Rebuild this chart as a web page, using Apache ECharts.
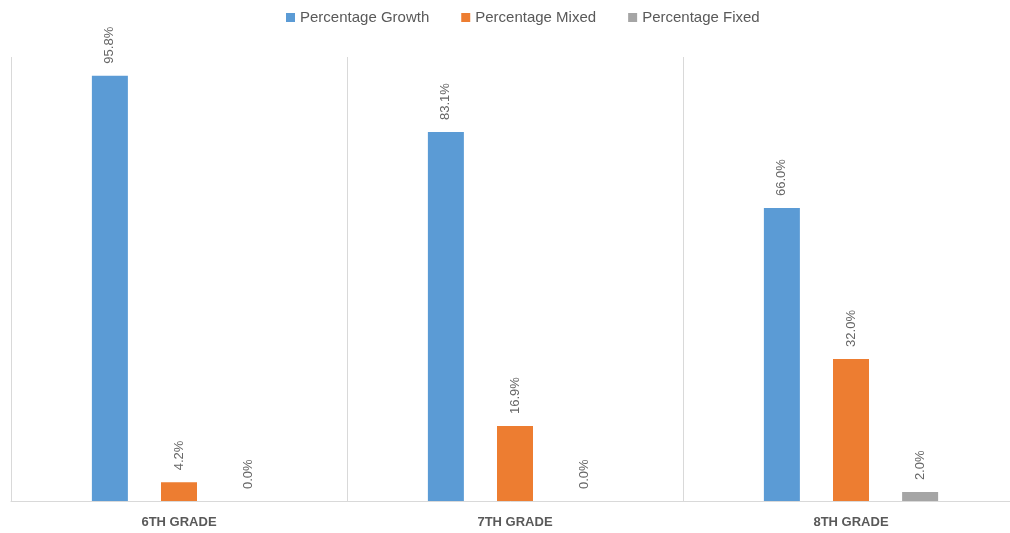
<!DOCTYPE html>
<html>
<head>
<meta charset="utf-8">
<script src="https://cdn.jsdelivr.net/npm/echarts@6/dist/echarts.min.js"></script>
<style>html,body{margin:0;padding:0;background:#fff;}#c{width:1010px;height:533px;}</style>
</head>
<body>
<div id="c"></div>
<script>
var categories = ['6TH GRADE', '7TH GRADE', '8TH GRADE'];
var growth = [95.8, 83.1, 66.0];
var mixed = [4.2, 16.9, 32.0];
var fixed = [0.0, 0.0, 2.0];
var seriesNames = ['Percentage Growth', 'Percentage Mixed', 'Percentage Fixed'];

var chart = echarts.init(document.getElementById('c'));
var labelCfg = {
  show: true, position: 'top', rotate: 90, distance: 12,
  align: 'left', verticalAlign: 'middle',
  color: '#666666', fontSize: 13, fontFamily: 'Liberation Sans',
  formatter: function (p) { return p.value.toFixed(1) + '%'; }
};
function mk(name, data, color) {
  return {
    name: name, type: 'bar', data: data, barWidth: 36, barGap: '92%',
    itemStyle: { color: color }, label: labelCfg
  };
}
chart.setOption({
  animation: false,
  legend: {
    top: 5, left: 281, itemWidth: 9, itemHeight: 9, itemGap: 32,
    icon: 'rect',
    textStyle: { color: '#595959', fontSize: 15, fontFamily: 'Liberation Sans' },
    data: seriesNames
  },
  grid: { left: 11, width: 1008, top: 57, bottom: 32, containLabel: false, outerBoundsMode: 'none' },
  xAxis: {
    type: 'category', data: categories,
    axisLine: { lineStyle: { color: '#d9d9d9', width: 1 } },
    axisTick: { show: false },
    splitLine: { show: true, lineStyle: { color: '#d9d9d9', width: 1 } },
    axisLabel: { color: '#595959', fontSize: 13, fontWeight: 'bold', fontFamily: 'Liberation Sans', margin: 15 }
  },
  yAxis: { type: 'value', min: 0, max: 100, show: false, splitLine: { show: false } },
  series: [
    mk(seriesNames[0], growth, '#5b9bd5'),
    mk(seriesNames[1], mixed, '#ed7d31'),
    mk(seriesNames[2], fixed, '#a5a5a5')
  ]
});
</script>
</body>
</html>
